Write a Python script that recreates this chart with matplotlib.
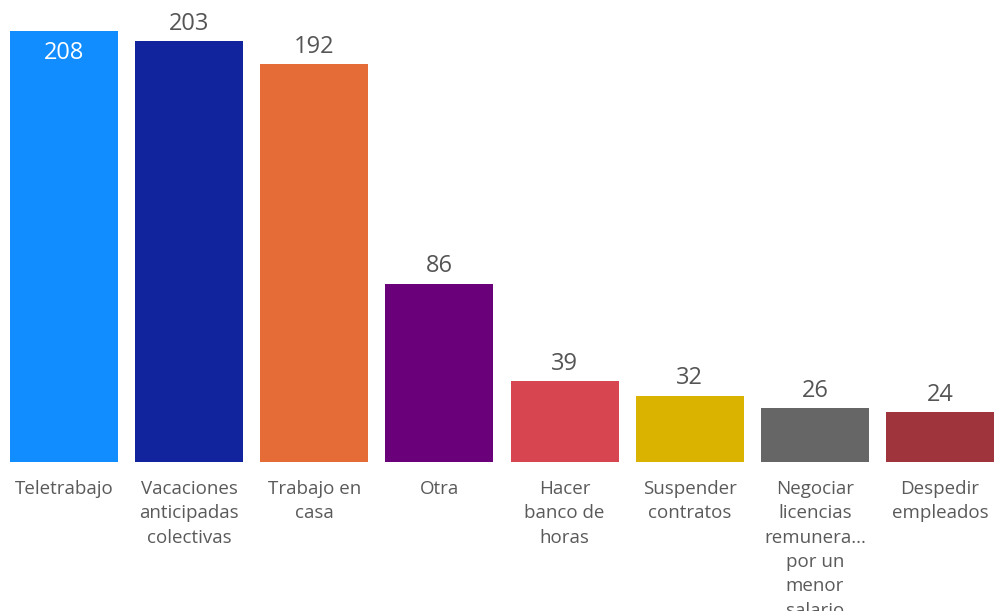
import matplotlib
matplotlib.use("agg")
import matplotlib.pyplot as plt

plt.rcParams["font.family"] = ["Open Sans", "DejaVu Sans"]

labels = [
    "Teletrabajo",
    "Vacaciones\nanticipadas\ncolectivas",
    "Trabajo en\ncasa",
    "Otra",
    "Hacer\nbanco de\nhoras",
    "Suspender\ncontratos",
    "Negociar\nlicencias\nremunera...\npor un\nmenor\nsalario",
    "Despedir\nempleados",
]
counts = [208, 203, 192, 86, 39, 32, 26, 24]
colors = ["#118DFF", "#12239E", "#E66C37", "#6B007B",
          "#D64550", "#D9B300", "#666666", "#A0343C"]

W, H = 996, 611
fig = plt.figure(figsize=(W / 100, H / 100), dpi=100)
ax = fig.add_axes([10 / W, (H - 462) / H, 984 / W, (462 - 31) / H])

x = list(range(len(counts)))
bars = ax.bar(x, counts, width=0.862, color=colors)
ax.set_xlim(-0.431, len(counts) - 1 + 0.431)
ax.set_ylim(0, max(counts))

for i, (b, v) in enumerate(zip(bars, counts)):
    cx = b.get_x() + b.get_width() / 2
    if v == max(counts):
        ax.annotate(str(v), (cx, v), xytext=(0, -16), textcoords="offset points",
                    ha="center", va="center", fontsize=17, color="white")
    else:
        ax.annotate(str(v), (cx, v), xytext=(0, 4), textcoords="offset points",
                    ha="center", va="bottom", fontsize=17, color="#555555")

ax.set_xticks(x)
ax.set_xticklabels(labels, fontsize=13.5, color="#5a5a5a", linespacing=1.45, va="top")
ax.tick_params(axis="x", length=0, pad=13)
ax.set_yticks([])
for s in ax.spines.values():
    s.set_visible(False)

fig.savefig("out.png", dpi=100, facecolor="white")
